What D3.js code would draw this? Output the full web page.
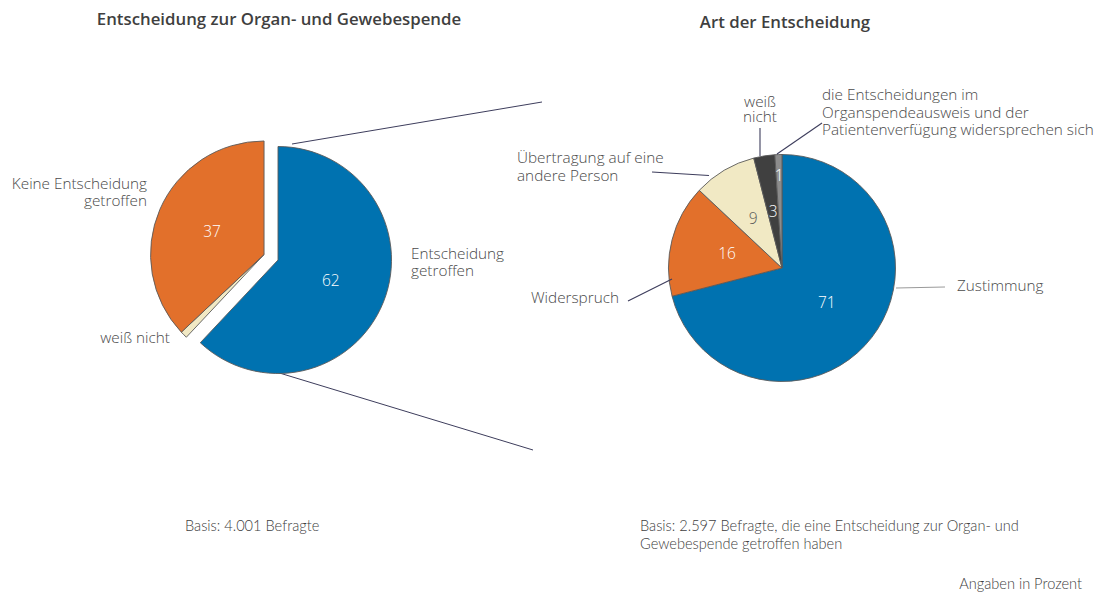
<!DOCTYPE html>
<html><head><meta charset="utf-8">
<script src="https://cdn.jsdelivr.net/npm/d3@7"></script>
<style>
body{margin:0;background:#fff;}
svg{display:block;}
.lbl{font-family:"Open Sans",sans-serif;font-weight:300;font-size:15.3px;fill:#4a4a4a;}
.val{font-family:"Open Sans",sans-serif;font-weight:300;font-size:15.5px;}
.title{font-family:"Open Sans",sans-serif;font-weight:600;font-size:16.8px;fill:#3f3f3f;}
.foot{font-family:Lato,sans-serif;font-weight:300;font-size:14.6px;fill:#404040;}
</style></head><body>
<svg id="c" width="1100" height="593"></svg>
<script>
// ---- data ----
const leftCategories = ["Entscheidung getroffen", "weiß nicht", "Keine Entscheidung getroffen"];
const leftValues = [62, 1, 37];
const leftColors = ["#0072B0", "#F1E9C4", "#E2702B"];
const leftValueColors = ["#ffffff", null, "#ffffff"];

const rightCategories = ["Zustimmung", "Widerspruch", "Übertragung auf eine andere Person", "weiß nicht", "die Entscheidungen im Organspendeausweis und der Patientenverfügung widersprechen sich"];
const rightValues = [71, 16, 9, 3, 1];
const rightColors = ["#0072B0", "#E2702B", "#F1E9C4", "#404040", "#8C8C8C"];
const rightValueColors = ["#ffffff", "#ffffff", "#595959", "#ffffff", "#ffffff"];

const titles = ["Entscheidung zur Organ- und Gewebespende", "Art der Entscheidung"];
const footnotes = ["Basis: 4.001 Befragte", "Basis: 2.597 Befragte, die eine Entscheidung zur Organ- und", "Gewebespende getroffen haben", "Angaben in Prozent"];

// ---- drawing ----
const svg = d3.select("#c");
const R = 113.5;
const pie = d3.pie().sort(null).value(d => d).startAngle(0).endAngle(2 * Math.PI);
const arc = d3.arc().innerRadius(0).outerRadius(R);
const lineCol = "#3d3d5c";

// titles
svg.append("text").attr("class", "title").attr("x", 279).attr("y", 25).attr("text-anchor", "middle").text(titles[0]);
svg.append("text").attr("class", "title").attr("x", 785).attr("y", 28).attr("text-anchor", "middle").text(titles[1]);

// connector lines between pies
svg.append("line").attr("x1", 292).attr("y1", 144).attr("x2", 542).attr("y2", 102).attr("stroke", lineCol).attr("stroke-width", 1);
svg.append("line").attr("x1", 263).attr("y1", 368).attr("x2", 533).attr("y2", 450).attr("stroke", lineCol).attr("stroke-width", 1);

// left pie
const lc = [278, 260];
const la = pie(leftValues);
const restStart = la[0].endAngle, restMid = (restStart + 2 * Math.PI) / 2;
const explode = 15;
const off = [Math.sin(restMid) * explode, -Math.cos(restMid) * explode];
const gL = svg.append("g").attr("transform", `translate(${lc[0]},${lc[1]})`);
la.forEach((d, i) => {
  const dx = i === 0 ? 0 : off[0], dy = i === 0 ? 0 : off[1];
  gL.append("path").attr("d", arc(d)).attr("transform", `translate(${dx},${dy})`)
    .attr("fill", leftColors[i]).attr("stroke", "#5a5a5a").attr("stroke-width", 0.9);
});
la.forEach((d, i) => {
  if (!leftValueColors[i]) return;
  const dx = i === 0 ? 0 : off[0], dy = i === 0 ? 0 : off[1];
  const m = (d.startAngle + d.endAngle) / 2, r = R / 2;
  gL.append("text").attr("class", "val").attr("x", dx + Math.sin(m) * r).attr("y", dy - Math.cos(m) * r + 5)
    .attr("text-anchor", "middle").attr("fill", leftValueColors[i]).text(leftValues[i]);
});
// labels
function multi(x, y, lines, anchor, lh) {
  lines.forEach((s, k) => svg.append("text").attr("class", "lbl").attr("text-anchor", anchor)
    .attr("x", x).attr("y", y + k * lh).text(s));
}
multi(411, 259, ["Entscheidung", "getroffen"], "start", 16.5);
multi(147, 189, ["Keine Entscheidung", "getroffen"], "end", 16.5);
multi(170, 343, ["weiß nicht"], "end", 16.5);

// right pie
const rc = [782, 268];
const ra = pie(rightValues);
const gR = svg.append("g").attr("transform", `translate(${rc[0]},${rc[1]})`);
ra.forEach((d, i) => {
  gR.append("path").attr("d", arc(d)).attr("fill", rightColors[i]).attr("stroke", "#5a5a5a").attr("stroke-width", 0.9);
});
ra.forEach((d, i) => {
  const m = (d.startAngle + d.endAngle) / 2, r = i === 4 ? 92 : R / 2;
  gR.append("text").attr("class", "val").attr("x", Math.sin(m) * r).attr("y", -Math.cos(m) * r + 5)
    .attr("text-anchor", "middle").attr("fill", rightValueColors[i]).text(rightValues[i]);
});
// leader lines right
const leaders = [
  [[896, 288], [945, 287], "#9a9a9a"],
  [[672, 279], [628, 301], lineCol],
  [[709, 175.5], [652, 172], lineCol],
  [[760, 156], [760, 128], lineCol],
  [[777, 154], [822, 123], lineCol]
];
leaders.forEach(l => svg.append("line").attr("x1", l[0][0]).attr("y1", l[0][1]).attr("x2", l[1][0]).attr("y2", l[1][1])
  .attr("stroke", l[2]).attr("stroke-width", 1.1));
multi(957, 291, ["Zustimmung"], "start", 17.5);
multi(619, 303, ["Widerspruch"], "end", 17.5);
multi(517, 163, ["Übertragung auf eine", "andere Person"], "start", 17.5);
multi(760, 107, ["weiß", "nicht"], "middle", 15);
multi(822, 100, ["die Entscheidungen im", "Organspendeausweis und der", "Patientenverfügung widersprechen sich"], "start", 17.7);

// footnotes
svg.append("text").attr("class", "foot").attr("x", 185).attr("y", 531).text(footnotes[0]);
svg.append("text").attr("class", "foot").attr("x", 640).attr("y", 531).text(footnotes[1]);
svg.append("text").attr("class", "foot").attr("x", 640).attr("y", 549).text(footnotes[2]);
svg.append("text").attr("class", "foot").attr("x", 1082).attr("y", 589).attr("text-anchor", "end").text(footnotes[3]);
</script></body></html>
